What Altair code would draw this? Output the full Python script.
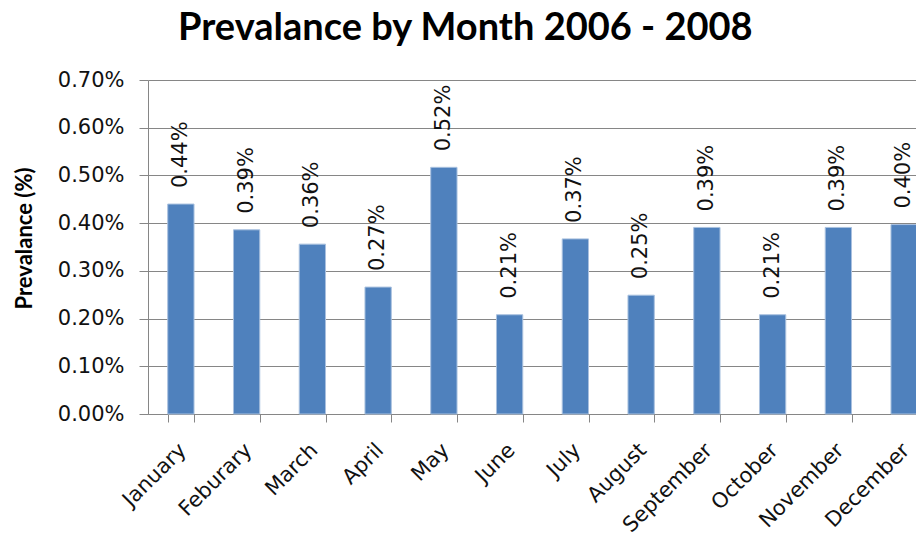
import altair as alt
import pandas as pd

months = ["January", "Feburary", "March", "April", "May", "June", "July",
          "August", "September", "October", "November", "December"]
prevalence_pct = [0.44, 0.386, 0.356, 0.266, 0.517, 0.208, 0.367, 0.249,
                  0.391, 0.208, 0.391, 0.397]
y_ticks_pct = [0.0, 0.1, 0.2, 0.3, 0.4, 0.5, 0.6, 0.7]

df = pd.DataFrame({"Month": months, "Prevalence": [v / 100 for v in prevalence_pct]})
y_ticks = [v / 100 for v in y_ticks_pct]

GRAY = "#868686"

x = alt.X("Month:N", sort=months, title=None,
          scale=alt.Scale(range=[0, 789], paddingInner=0.6, paddingOuter=0.3),
          axis=alt.Axis(labelAngle=315, labelAlign="right", labelBaseline="top",
                        labelFont="DejaVu Sans", labelFontSize=21, labelColor="#111111",
                        labelPadding=17, labelOffset=-6, tickBand="extent", tickSize=8,
                        tickColor=GRAY, domainColor=GRAY, grid=False, labelOverlap=False))
y = alt.Y("Prevalence:Q", title="Prevalance (%)",
          scale=alt.Scale(domain=[0, 0.007], nice=False),
          axis=alt.Axis(values=y_ticks, format=".2%", labelFont="DejaVu Sans",
                        labelFontSize=21, labelColor="#111111", labelPadding=15,
                        tickSize=9, tickColor=GRAY, domainColor=GRAY, gridColor=GRAY,
                        titleFont="Lato", titleFontSize=22, titleFontWeight="bold",
                        titleColor="#000000", titleX=-112, titleY=158))

bars = alt.Chart(df).mark_bar(color="#4F81BD", stroke="#A9C1DF", strokeWidth=1).encode(x=x, y=y)
labels = alt.Chart(df).mark_text(angle=270, align="left", baseline="middle", dx=16,
                                 font="DejaVu Sans", fontSize=21, color="#111111").encode(
    x=alt.X("Month:N", sort=months), y="Prevalence:Q",
    text=alt.Text("Prevalence:Q", format=".2%"))

chart = (bars + labels).properties(
    width=768, height=334,
    title=alt.TitleParams("Prevalance by Month 2006 - 2008", font="Lato", fontSize=38,
                          fontWeight="bold", color="#000000", anchor="start", frame="group",
                          dx=30, dy=9, offset=0, baseline="alphabetic"),
    autosize=alt.AutoSizeParams(type="none"),
    padding={"left": 140, "top": 72, "right": 0, "bottom": 130},
).configure_view(stroke=None)

chart.save("out.html", embed_options={"renderer": "svg", "actions": False})
